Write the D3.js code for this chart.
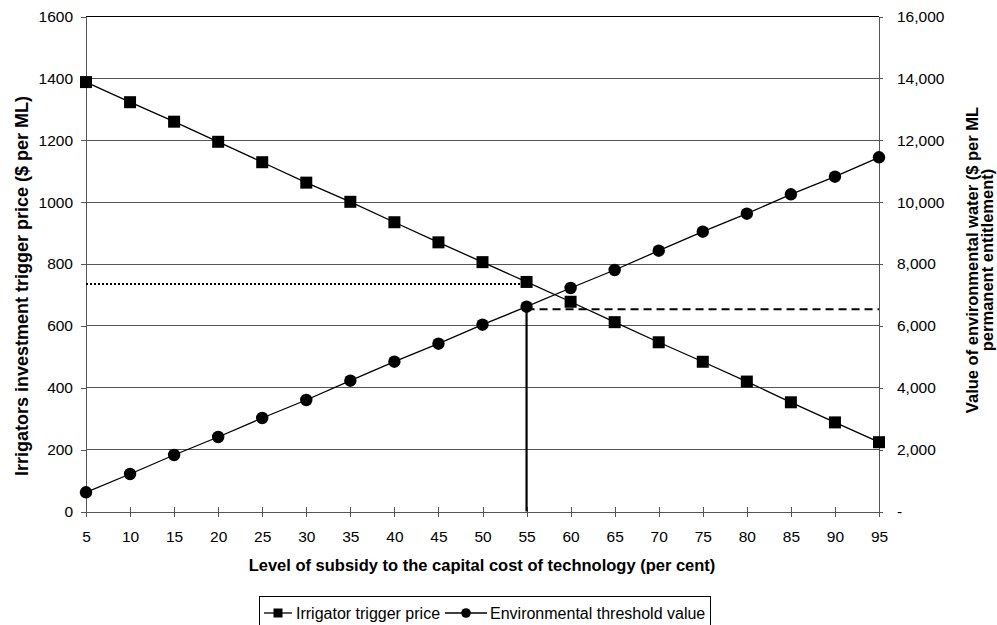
<!DOCTYPE html>
<html>
<head>
<meta charset="utf-8">
<script src="https://cdn.jsdelivr.net/npm/d3@7"></script>
<style>
  html, body { margin: 0; padding: 0; background: #fff; }
  svg { display: block; font-family: "Liberation Sans", Arial, sans-serif; }
</style>
</head>
<body>
<svg id="chart" width="997" height="625"></svg>
<script>
// ---- data ----
const subsidy = [5, 10, 15, 20, 25, 30, 35, 40, 45, 50, 55, 60, 65, 70, 75, 80, 85, 90, 95];
const irrigatorTrigger = [1388, 1323, 1260, 1195, 1129, 1063, 1001, 935, 870, 806, 742, 678, 612, 547, 484, 420, 353, 288, 224];
const envThreshold = [621, 1212, 1826, 2408, 3022, 3604, 4228, 4842, 5424, 6038, 6620, 7224, 7806, 8430, 9044, 9626, 10253, 10822, 11449];
const leftTicks = [0, 200, 400, 600, 800, 1000, 1200, 1400, 1600];
const rightTicks = [0, 2000, 4000, 6000, 8000, 10000, 12000, 14000, 16000];
const seriesNames = ["Irrigator trigger price", "Environmental threshold value"];
// reference lines
const refSubsidy = 55;
const dottedLevel = 735;      // left axis ($ per ML)
const dashedLevel = 6540;     // right axis ($ per ML entitlement)

// ---- layout ----
const svg = d3.select("#chart");
const L = 86, R = 879, T = 16.5, B = 511.5;

const x = d3.scaleLinear().domain([5, 95]).range([L, R]);
const yL = d3.scaleLinear().domain([0, 1600]).range([B, T]);
const yR = d3.scaleLinear().domain([0, 16000]).range([B, T]);

const gridColor = "#555";
const tickFont = 15.5;

// gridlines
svg.append("g").selectAll("line").data(leftTicks.filter(d => d > 0)).join("line")
  .attr("x1", L).attr("x2", R)
  .attr("y1", d => yL(d)).attr("y2", d => yL(d))
  .attr("stroke", d => d === 1600 ? "#000" : gridColor).attr("stroke-width", 1)
  .attr("shape-rendering", "crispEdges");

// left axis
const gL = svg.append("g").attr("transform", `translate(${L},0)`)
  .call(d3.axisLeft(yL).tickValues(leftTicks).tickSize(5).tickPadding(8).tickFormat(d3.format("d")));
// right axis
const gR = svg.append("g").attr("transform", `translate(${R},0)`)
  .call(d3.axisRight(yR).tickValues(rightTicks).tickSize(4).tickPadding(14)
    .tickFormat(d => d === 0 ? "-" : d3.format(",")(d)));
// bottom axis
const gB = svg.append("g").attr("transform", `translate(0,${B})`)
  .call(d3.axisBottom(x).tickValues(subsidy).tickSize(5).tickPadding(14).tickFormat(d3.format("d")));
gB.selectAll(".tick line").attr("y1", -5);

[gL, gR, gB].forEach(g => {
  g.attr("font-size", tickFont).attr("font-family", "'Liberation Sans', Arial, sans-serif");
  g.select(".domain").attr("stroke", gridColor).attr("shape-rendering", "crispEdges");
  g.selectAll(".tick line").attr("stroke", gridColor).attr("shape-rendering", "crispEdges");
  g.selectAll(".tick text").attr("font-size", tickFont).attr("fill", "#000");
});
gR.selectAll(".tick text").attr("text-anchor", "start").attr("dx", 0);

// reference lines
svg.append("line")
  .attr("x1", L).attr("x2", x(refSubsidy))
  .attr("y1", yL(dottedLevel)).attr("y2", yL(dottedLevel))
  .attr("stroke", "#000").attr("stroke-width", 2).attr("stroke-dasharray", "2,2");
svg.append("line")
  .attr("x1", x(refSubsidy)).attr("x2", R)
  .attr("y1", yR(dashedLevel)).attr("y2", yR(dashedLevel))
  .attr("stroke", "#000").attr("stroke-width", 2).attr("stroke-dasharray", "8,5");
svg.append("line")
  .attr("x1", x(refSubsidy)).attr("x2", x(refSubsidy))
  .attr("y1", B).attr("y2", yR(envThreshold[subsidy.indexOf(refSubsidy)]))
  .attr("stroke", "#000").attr("stroke-width", 2.2);

// series lines
const lineIrr = d3.line().x((d, i) => x(subsidy[i])).y(d => yL(d));
const lineEnv = d3.line().x((d, i) => x(subsidy[i])).y(d => yR(d));
svg.append("path").attr("d", lineIrr(irrigatorTrigger)).attr("fill", "none").attr("stroke", "#000").attr("stroke-width", 1.3);
svg.append("path").attr("d", lineEnv(envThreshold)).attr("fill", "none").attr("stroke", "#000").attr("stroke-width", 1.3);

// markers
const sq = 12;
svg.append("g").selectAll("rect").data(irrigatorTrigger).join("rect")
  .attr("x", (d, i) => x(subsidy[i]) - sq / 2).attr("y", d => yL(d) - sq / 2)
  .attr("width", sq).attr("height", sq).attr("fill", "#000");
svg.append("g").selectAll("circle").data(envThreshold).join("circle")
  .attr("cx", (d, i) => x(subsidy[i])).attr("cy", d => yR(d)).attr("r", 6.2).attr("fill", "#000");

// axis titles
const titleFont = 16.5;
svg.append("text")
  .attr("x", 482).attr("y", 571).attr("text-anchor", "middle")
  .attr("font-size", titleFont).attr("font-weight", "bold")
  .text("Level of subsidy to the capital cost of technology (per cent)");
svg.append("text")
  .attr("transform", `translate(28,286) rotate(-90)`)
  .attr("text-anchor", "middle").attr("font-size", 18).attr("font-weight", "bold")
  .text("Irrigators investment trigger price ($ per ML)");
const rt = svg.append("text")
  .attr("transform", `translate(978,260) rotate(-90)`)
  .attr("text-anchor", "middle").attr("font-size", 16.5).attr("font-weight", "bold");
rt.append("tspan").attr("x", 0).attr("dy", 0).text("Value of environmental water ($ per ML");
rt.append("tspan").attr("x", 0).attr("dy", 15).text("permanent entitlement)");

// legend
const lg = svg.append("g");
lg.append("rect").attr("x", 259.5).attr("y", 596.5).attr("width", 451).attr("height", 34)
  .attr("fill", "#fff").attr("stroke", "#000").attr("stroke-width", 1);
const ly = 613;
const items = [{x0: 264, x1: 292, tx: 296, type: "sq"}, {x0: 445, x1: 487, tx: 490, type: "c"}];
items.forEach((it, k) => {
  lg.append("line").attr("x1", it.x0).attr("x2", it.x1).attr("y1", ly).attr("y2", ly)
    .attr("stroke", "#000").attr("stroke-width", 1.3);
  const cx = (it.x0 + it.x1) / 2;
  if (it.type === "sq") {
    lg.append("rect").attr("x", cx - 4.5).attr("y", ly - 4.5).attr("width", 9).attr("height", 9).attr("fill", "#000");
  } else {
    lg.append("circle").attr("cx", cx).attr("cy", ly).attr("r", 4.8).attr("fill", "#000");
  }
  lg.append("text").attr("x", it.tx).attr("y", ly + 6).attr("font-size", 16).text(seriesNames[k]);
});
</script>
</body>
</html>
